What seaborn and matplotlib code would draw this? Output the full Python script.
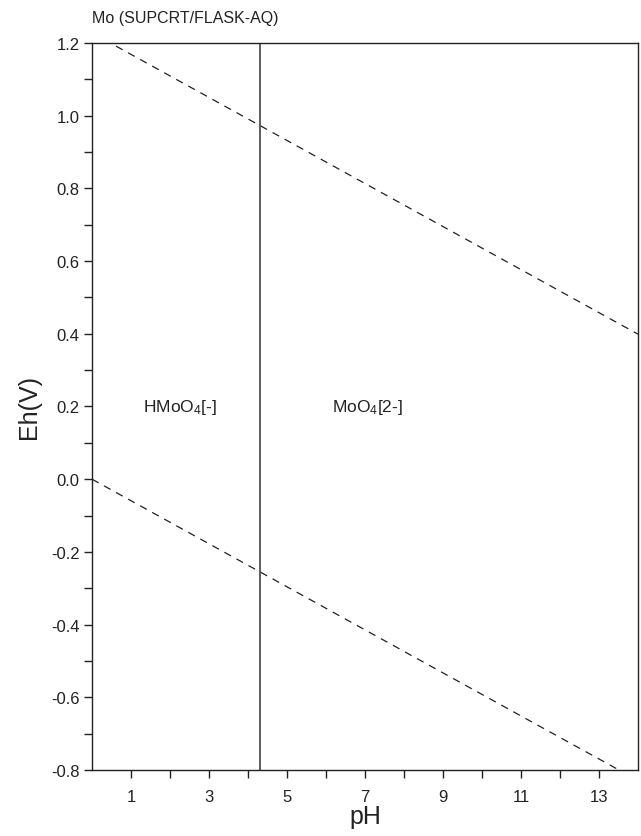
import numpy as np
import pandas as pd
import matplotlib
matplotlib.use("Agg")
import matplotlib.pyplot as plt
import seaborn as sns

# water stability limits (pH, Eh)
ph_ends = [0, 14]
o2_eh = [1.228, 0.399]
h2_eh = [0.0, -0.829]

# species boundary HMoO4- / MoO4 2-
boundary_ph = [4.31, 4.31]
boundary_eh = [-0.8, 1.2]

species = ["HMoO$_{\\mathregular{4}}$[-]", "MoO$_{\\mathregular{4}}$[2-]"]
species_ph = [1.3, 6.15]
species_eh = [0.2, 0.2]

xticks = list(range(1, 14))
xticklabels = [str(t) if t % 2 == 1 else "" for t in xticks]
yticks = np.round(np.arange(-0.8, 1.21, 0.1), 1)
yticklabels = ["%.1f" % abs(t) if t == 0 else ("%.1f" % t if round(t * 10) % 2 == 0 else "")
               for t in yticks]

sns.set_style("ticks")
plt.rcParams['font.family'] = ['Liberation Sans', 'DejaVu Sans']
plt.rcParams['mathtext.fontset'] = 'custom'
plt.rcParams['mathtext.rm'] = 'Liberation Sans'
plt.rcParams['mathtext.it'] = 'Liberation Sans'

fig = plt.figure(figsize=(6.41, 8.37), dpi=100)
ax = fig.add_axes([0.1435, 0.0789, 0.8518, 0.8685])

lines = pd.DataFrame({
    'pH': ph_ends * 2,
    'Eh': o2_eh + h2_eh,
    'limit': ['O2'] * 2 + ['H2'] * 2,
})
for name, grp in lines.groupby('limit'):
    sns.lineplot(data=grp, x='pH', y='Eh', ax=ax, color='#222222',
                 linewidth=0.9, linestyle=(0, (6, 5)), legend=False)

sns.lineplot(x=boundary_ph, y=boundary_eh, ax=ax, estimator=None, sort=False,
             color='#333333', linewidth=1.1, legend=False)

for lab, x, y in zip(species, species_ph, species_eh):
    ax.text(x, y, lab, fontsize=12.5, color='#222222', va='center', ha='left')

ax.set_xlim(0, 14)
ax.set_ylim(-0.8, 1.2)
ax.set_xticks(xticks)
ax.set_xticklabels(xticklabels)
ax.set_yticks(yticks)
ax.set_yticklabels(yticklabels)
ax.tick_params(direction='out', length=6, width=1, labelsize=12, color='#222222',
               labelcolor='#222222')
ax.tick_params(axis='x', pad=8)
ax.tick_params(axis='y', pad=3)
for s in ax.spines.values():
    s.set_linewidth(1.0)
    s.set_color('#222222')

ax.set_xlabel('pH', fontsize=18, labelpad=0, color='#222222')
ax.set_ylabel('Eh(V)', fontsize=18, labelpad=7, color='#222222')
fig.text(0.1435, 0.978, 'Mo (SUPCRT/FLASK-AQ)', fontsize=11.5, color='#222222',
         ha='left', va='center')

fig.savefig('out.png', dpi=100)
